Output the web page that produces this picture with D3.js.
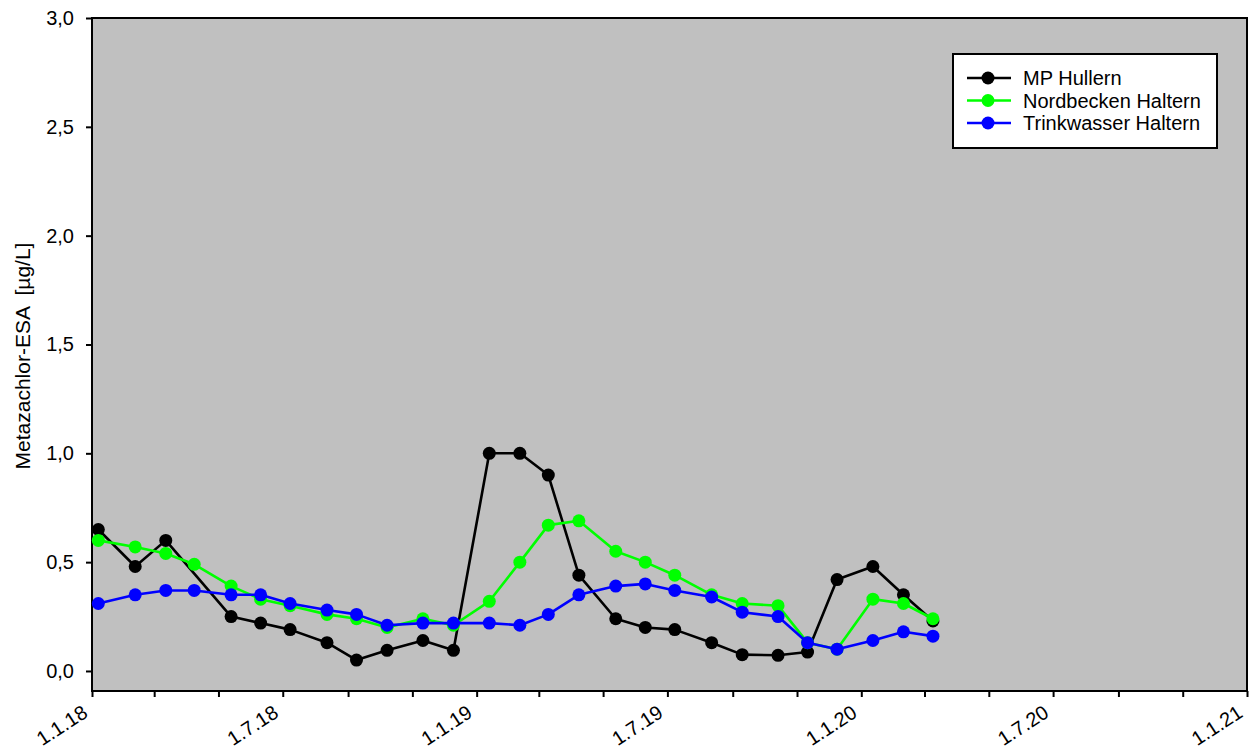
<!DOCTYPE html>
<html>
<head>
<meta charset="utf-8">
<script src="https://cdn.jsdelivr.net/npm/d3@7"></script>
<style>
  html, body { margin: 0; padding: 0; background: #ffffff; }
  svg { display: block; }
  text { font-family: Arial, "Liberation Sans", sans-serif; fill: #000; }
</style>
</head>
<body>
<svg id="chart" width="1250" height="754"></svg>
<script>
// Sampling dates (d.m.yyyy)
const datesAll = [
  "7.1.2018", "11.2.2018", "12.3.2018", "8.4.2018", "13.5.2018", "10.6.2018",
  "8.7.2018", "12.8.2018", "9.9.2018", "8.10.2018", "11.11.2018", "10.12.2018",
  "13.1.2019", "11.2.2019", "10.3.2019", "8.4.2019", "13.5.2019", "10.6.2019",
  "8.7.2019", "12.8.2019", "10.9.2019", "14.10.2019", "11.11.2019", "9.12.2019",
  "12.1.2020", "10.2.2020", "9.3.2020"
];
// MP Hullern has no value in April 2018
const datesHullern = datesAll.filter(d => d !== "8.4.2018");

const hullern = [
  0.65, 0.48, 0.60, 0.25, 0.22, 0.19, 0.13, 0.05, 0.095, 0.14, 0.095,
  1.00, 1.00, 0.90, 0.44, 0.24, 0.20, 0.19, 0.13, 0.075, 0.072, 0.087,
  0.42, 0.48, 0.35, 0.23
];
const nordbecken = [
  0.60, 0.57, 0.54, 0.49, 0.39, 0.33, 0.30, 0.26, 0.24, 0.20, 0.24, 0.21,
  0.32, 0.50, 0.67, 0.69, 0.55, 0.50, 0.44, 0.35, 0.31, 0.30, 0.13, 0.10,
  0.33, 0.31, 0.24
];
const trinkwasser = [
  0.31, 0.35, 0.37, 0.37, 0.35, 0.35, 0.31, 0.28, 0.26, 0.21, 0.22, 0.22,
  0.22, 0.21, 0.26, 0.35, 0.39, 0.40, 0.37, 0.34, 0.27, 0.25, 0.13, 0.10,
  0.14, 0.18, 0.16
];

const seriesNames = ["MP Hullern", "Nordbecken Haltern", "Trinkwasser Haltern"];
const seriesColors = ["#000000", "#00ff00", "#0000ff"];

const yTicks = [0, 0.5, 1.0, 1.5, 2.0, 2.5, 3.0];
const xLabelDates = ["1.1.2018", "1.7.2018", "1.1.2019", "1.7.2019", "1.1.2020", "1.7.2020", "1.1.2021"];
const yTitle = "Metazachlor-ESA  [µg/L]";

const parse = d3.timeParse("%d.%m.%Y");
const fmtX = d3.timeFormat("%-d.%-m.%y");
const fmtY = v => d3.format(".1f")(v).replace(".", ",");

const svg = d3.select("#chart");
const plot = { left: 92, right: 1247, top: 18, bottom: 691 };

const x = d3.scaleTime()
  .domain([parse("1.1.2018"), parse("1.1.2021")])
  .range([plot.left, plot.right]);
const y = d3.scaleLinear()
  .domain([-0.092, 3])
  .range([plot.bottom, plot.top]);

// Plot background and frame
svg.append("rect")
  .attr("x", plot.left).attr("y", plot.top)
  .attr("width", plot.right - plot.left).attr("height", plot.bottom - plot.top)
  .attr("fill", "#c0c0c0").attr("stroke", "#000").attr("stroke-width", 2);

// Y axis
const yAxis = svg.append("g")
  .attr("transform", `translate(${plot.left},0)`)
  .call(d3.axisLeft(y).tickValues(yTicks).tickFormat(fmtY).tickSize(6).tickPadding(12));
yAxis.select(".domain").remove();
yAxis.selectAll(".tick line").attr("stroke", "#000").attr("stroke-width", 2);
yAxis.selectAll(".tick text").attr("font-size", 20).attr("font-family", "Arial, 'Liberation Sans', sans-serif");

// X axis: ticks every two months, labels every six months
const xAxis = svg.append("g")
  .attr("transform", `translate(0,${plot.bottom})`)
  .call(d3.axisBottom(x).ticks(d3.timeMonth.every(2)).tickSize(6).tickFormat(""));
xAxis.select(".domain").remove();
xAxis.selectAll(".tick line").attr("stroke", "#000").attr("stroke-width", 2);

svg.append("g").selectAll("text")
  .data(xLabelDates.map(parse))
  .join("text")
  .attr("transform", d => `translate(${x(d) - 3},716) rotate(-33)`)
  .attr("text-anchor", "end")
  .attr("font-size", 20)
  .text(d => fmtX(d));

// Y axis title
svg.append("text")
  .attr("transform", `translate(30,356) rotate(-90)`)
  .attr("text-anchor", "middle")
  .attr("font-size", 21)
  .style("white-space", "pre")
  .attr("xml:space", "preserve")
  .text(yTitle);

// Series
const series = [
  { name: seriesNames[0], color: seriesColors[0], dates: datesHullern, values: hullern },
  { name: seriesNames[1], color: seriesColors[1], dates: datesAll, values: nordbecken },
  { name: seriesNames[2], color: seriesColors[2], dates: datesAll, values: trinkwasser }
];

const line = d3.line().x(d => x(d.date)).y(d => y(d.value));

series.forEach(s => {
  const pts = s.dates.map((d, i) => ({ date: parse(d), value: s.values[i] }));
  const g = svg.append("g");
  g.append("path")
    .datum(pts)
    .attr("d", line)
    .attr("fill", "none")
    .attr("stroke", s.color)
    .attr("stroke-width", 2.6)
    .attr("stroke-linejoin", "round");
  g.selectAll("circle")
    .data(pts)
    .join("circle")
    .attr("cx", d => x(d.date))
    .attr("cy", d => y(d.value))
    .attr("r", 6.5)
    .attr("fill", s.color);
});

// Legend
const legend = svg.append("g").attr("transform", "translate(953,54)");
legend.append("rect")
  .attr("width", 264).attr("height", 94)
  .attr("fill", "#fff").attr("stroke", "#000").attr("stroke-width", 2);
series.forEach((s, i) => {
  const yy = 24 + i * 22.5;
  legend.append("line")
    .attr("x1", 14).attr("x2", 58).attr("y1", yy).attr("y2", yy)
    .attr("stroke", s.color).attr("stroke-width", 2.6);
  legend.append("circle")
    .attr("cx", 35).attr("cy", yy).attr("r", 6.5).attr("fill", s.color);
  legend.append("text")
    .attr("x", 70).attr("y", yy).attr("dy", "0.36em")
    .attr("font-size", 20)
    .text(s.name);
});
</script>
</body>
</html>
